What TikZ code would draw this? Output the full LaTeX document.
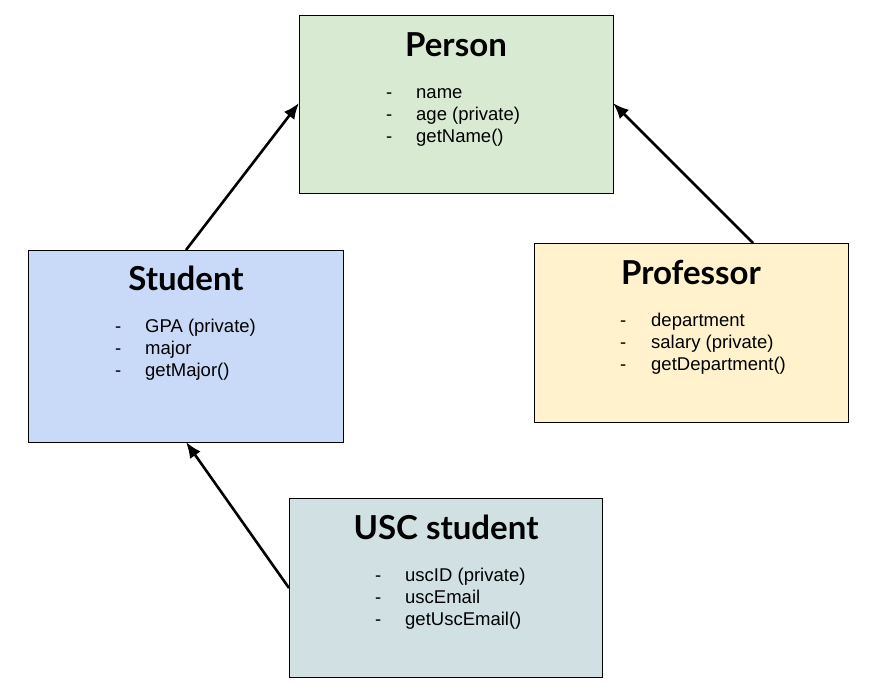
\documentclass[tikz,border=0pt]{standalone}
\usepackage{fontspec}
\setmainfont{Liberation Sans}
\newfontfamily\titlefont{Lato}
\usetikzlibrary{arrows.meta}
\definecolor{cperson}{HTML}{D9EAD3}
\definecolor{cstudent}{HTML}{C9DAF8}
\definecolor{cprof}{HTML}{FFF2CC}
\definecolor{cusc}{HTML}{D0E0E3}
\tikzset{
  classbox/.style={draw=black, line width=1pt, inner sep=0pt, minimum width=314pt, minimum height=178pt},
  ctitle/.style={anchor=base, inner sep=0pt, font=\titlefont\bfseries\fontsize{33}{36}\selectfont},
  citem/.style={anchor=base west, inner sep=0pt, font=\fontsize{18.5}{21}\selectfont},
  inh/.style={line width=2.6pt, -{Latex[length=16pt,width=13pt]}}
}
\begin{document}
\begin{tikzpicture}[x=1pt,y=-1pt]
\useasboundingbox (0,0) rectangle (873,696);
% boxes
\node[classbox, fill=cperson, anchor=north west] (person) at (299,15) {};
\node[classbox, fill=cstudent, anchor=north west, minimum width=315pt, minimum height=192pt] (student) at (28,250) {};
\node[classbox, fill=cprof, anchor=north west, minimum height=179pt] (prof) at (534,243) {};
\node[classbox, fill=cusc, anchor=north west, minimum width=313pt, minimum height=179pt] (usc) at (289,498) {};
% Person
\node[ctitle] (pt) at (456,56) {Person};
\node[citem] (p1d) at (386,98) {-};
\node[citem] (p1) at (416,98) {name};
\node[citem] (p2d) at (386,120) {-};
\node[citem] (p2) at (416,120) {age (private)};
\node[citem] (p3d) at (386,142) {-};
\node[citem] (p3) at (416,142) {getName()};
% Student
\node[ctitle] (st) at (186,290) {Student};
\node[citem] (s1d) at (115,332) {-};
\node[citem] (s1) at (145,332) {GPA (private)};
\node[citem] (s2d) at (115,354) {-};
\node[citem] (s2) at (145,354) {major};
\node[citem] (s3d) at (115,376) {-};
\node[citem] (s3) at (145,376) {getMajor()};
% Professor
\node[ctitle] (prt) at (691,284) {Professor};
\node[citem] (r1d) at (620,326) {-};
\node[citem] (r1) at (651,326) {department};
\node[citem] (r2d) at (620,348) {-};
\node[citem] (r2) at (651,348) {salary (private)};
\node[citem] (r3d) at (620,370) {-};
\node[citem] (r3) at (651,370) {getDepartment()};
% USC student
\node[ctitle] (ut) at (446,539) {USC student};
\node[citem] (u1d) at (375,581) {-};
\node[citem] (u1) at (405,581) {uscID (private)};
\node[citem] (u2d) at (375,603) {-};
\node[citem] (u2) at (405,603) {uscEmail};
\node[citem] (u3d) at (375,625) {-};
\node[citem] (u3) at (405,625) {getUscEmail()};
% connectors
\coordinate (sTop) at (186,250);
\coordinate (pLeft) at (299,103);
\coordinate (prTop) at (753,243);
\coordinate (pRight) at (613,103);
\coordinate (uLeft) at (289,588);
\coordinate (sBot) at (186,442);
\draw[inh] (sTop) -- (pLeft);
\draw[inh] (prTop) -- (pRight);
\draw[inh] (uLeft) -- (sBot);
\end{tikzpicture}
\end{document}
